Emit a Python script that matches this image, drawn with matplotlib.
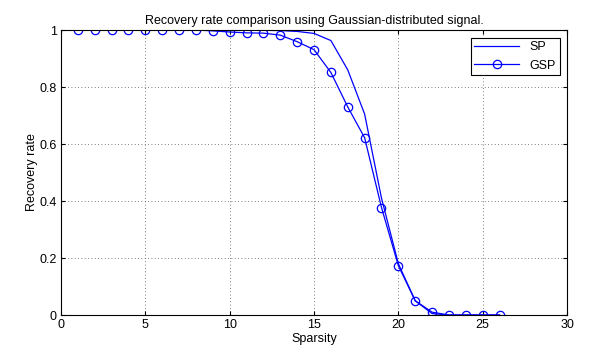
import matplotlib
matplotlib.use("Agg")
import matplotlib.pyplot as plt

plt.rcParams['font.family'] = ['Liberation Sans', 'DejaVu Sans']

sparsity = [1, 2, 3, 4, 5, 6, 7, 8, 9, 10, 11, 12, 13, 14, 15, 16, 17, 18, 19, 20, 21, 22, 23, 24, 25, 26]
sp = [1.0, 1.0, 1.0, 1.0, 1.0, 1.0, 1.0, 1.0, 1.0, 1.0, 1.0, 0.999, 0.998, 0.995, 0.988, 0.963,
      0.86, 0.705, 0.41, 0.18, 0.05, 0.005, 0.0, 0.0, 0.0, 0.0]
gsp = [1.0, 1.0, 1.0, 1.0, 1.0, 1.0, 1.0, 1.0, 0.997, 0.993, 0.99, 0.989, 0.982, 0.959, 0.931, 0.851,
       0.73, 0.622, 0.377, 0.173, 0.05, 0.01, 0.0, 0.0, 0.0, 0.0]
xticks = [0, 5, 10, 15, 20, 25, 30]
yticks = [0, 0.2, 0.4, 0.6, 0.8, 1]
yticklabels = ['0', '0.2', '0.4', '0.6', '0.8', '1']

fig = plt.figure(figsize=(5.89, 3.53), dpi=100)
ax = fig.add_axes([0.1036, 0.1076, 0.8591, 0.8074])

ax.plot(sparsity, sp, color='#0000ff', lw=0.9, label='SP')
ax.plot(sparsity, gsp, color='#0000ff', lw=0.9, marker='o', markersize=6,
        markerfacecolor='none', markeredgecolor='#0000ff', markeredgewidth=0.9, label='GSP')

ax.set_xlim(0, 30)
ax.set_ylim(0, 1)
ax.set_xticks(xticks)
ax.set_yticks(yticks)
ax.set_yticklabels(yticklabels)
ax.tick_params(direction='in', top=True, right=True, labelsize=9, length=3, width=0.8, pad=3)
ax.grid(True, linestyle=(0, (1, 3)), color='#555555', linewidth=0.6)
for s in ax.spines.values():
    s.set_linewidth(0.8)

ax.set_xlabel('Sparsity', fontsize=9, labelpad=1)
ax.set_ylabel('Recovery rate', fontsize=9, labelpad=1)
ax.set_title('Recovery rate comparison using Gaussian-distributed signal.', fontsize=9, pad=4)

leg = ax.legend(loc='upper right', fontsize=9, fancybox=False, framealpha=1,
                edgecolor='black', borderaxespad=0.6, handlelength=3.6, borderpad=0.3)
leg.get_frame().set_linewidth(0.8)

fig.savefig('out.png', dpi=100)
